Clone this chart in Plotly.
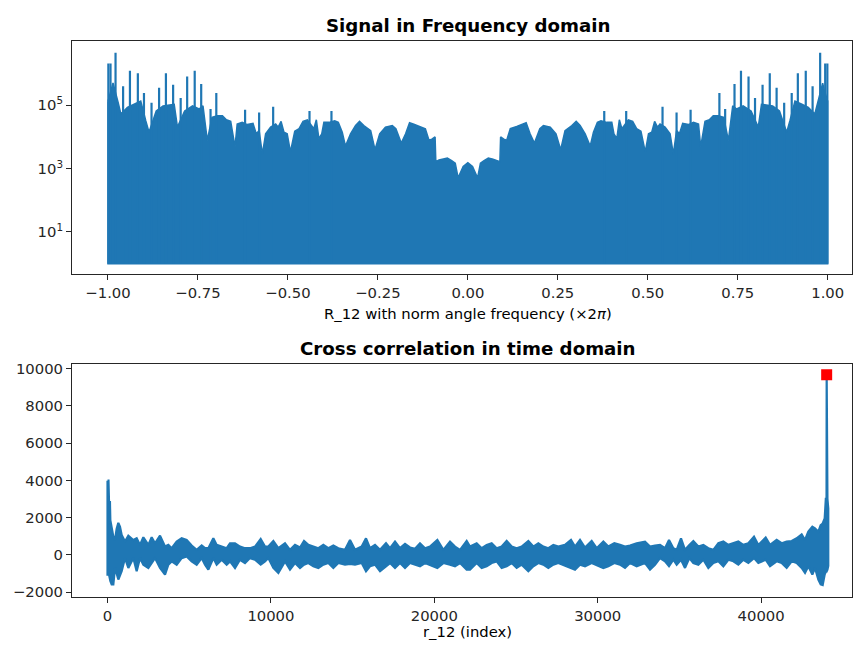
import plotly.graph_objects as go

# ---------------- Top panel: |R_12| spectrum (symmetric, positive half) ----
# normalized angular frequency (x 2pi), positive half
freq_pos = [0.000, 0.013, 0.027, 0.035, 0.045, 0.057, 0.070, 0.080, 0.089, 0.091, 0.100, 0.108,
            0.118, 0.136, 0.150, 0.162, 0.173, 0.185, 0.200, 0.210, 0.229, 0.245, 0.258, 0.270,
            0.289, 0.301, 0.312, 0.326, 0.340, 0.349, 0.360, 0.370, 0.386, 0.400, 0.406, 0.414,
            0.421, 0.428, 0.446, 0.458, 0.469, 0.481, 0.493, 0.502, 0.511, 0.519, 0.527, 0.534,
            0.548, 0.562, 0.571, 0.580, 0.588, 0.597, 0.613, 0.627, 0.641, 0.647, 0.659, 0.671,
            0.682, 0.696, 0.711, 0.724, 0.736, 0.747, 0.765, 0.787, 0.807, 0.816, 0.829, 0.847,
            0.866, 0.886, 0.895, 0.909, 0.928, 0.946, 0.964, 0.972, 0.986, 0.990, 1.000]
# envelope of |R_12| as log10 of magnitude
freq_env_log10 = [3.19, 3.07, 2.71, 3.17, 3.25, 3.33, 3.30, 3.27, 3.22, 4.00, 3.93, 3.90,
                  4.26, 4.33, 4.40, 4.45, 4.10, 3.81, 4.26, 4.36, 4.31, 4.10, 3.60, 4.20,
                  4.36, 4.49, 4.36, 4.10, 3.71, 4.15, 4.46, 4.51, 4.46, 4.46, 4.10, 3.95,
                  4.54, 4.26, 4.54, 4.49, 4.26, 4.18, 3.53, 4.10, 4.15, 4.49, 4.31, 4.41,
                  4.31, 4.10, 3.46, 4.20, 4.10, 4.43, 4.39, 4.46, 4.41, 3.69, 4.49, 4.54,
                  4.67, 4.67, 4.62, 3.89, 4.98, 4.88, 4.98, 4.82, 4.31, 5.03, 5.01, 4.98,
                  4.82, 4.15, 4.51, 5.13, 5.03, 4.93, 4.72, 5.10, 5.70, 5.50, 5.13]
# narrow spectral spikes (positive half)
spike_pos = [0.379, 0.440, 0.541, 0.580, 0.619, 0.699, 0.715, 0.741, 0.759, 0.780, 0.798,
             0.819, 0.839, 0.858, 0.879, 0.900, 0.917, 0.939, 0.958, 0.979, 0.993, 0.999]
spike_log10 = [4.82, 4.82, 4.95, 4.77, 4.86, 5.39, 4.88, 5.67, 6.09, 5.91, 5.23,
               5.65, 6.01, 5.55, 5.08, 5.39, 6.01, 6.09, 5.60, 6.66, 6.32, 6.32]
freq_floor = 1.0

freq_xticks = [-1.0, -0.75, -0.5, -0.25, 0.0, 0.25, 0.5, 0.75, 1.0]
freq_xtick_text = ["\u22121.00", "\u22120.75", "\u22120.50", "\u22120.25", "0.00", "0.25", "0.50", "0.75", "1.00"]
freq_yticks = [1e1, 1e3, 1e5]
freq_ytick_text = ["10<sup>1</sup>", "10<sup>3</sup>", "10<sup>5</sup>"]

# ---------------- Bottom panel: cross correlation r_12 (band envelope) ----
corr_idx = [0, 60, 92, 150, 173, 255, 357, 459, 560, 663, 765, 867, 1071, 1275, 1581, 1785,
            1989, 2193, 2499, 2703, 2907, 3213, 3519, 3723, 3927, 4233, 4539, 4845, 5151, 5457,
            5763, 5967, 6171, 6477, 6681, 6987, 7293, 7497, 7803, 8109, 8415, 8721, 9027, 9374,
            9639, 9843, 10149, 10455, 10761, 10863, 11169, 11475, 11781, 12026, 12291, 12597,
            12903, 13209, 13515, 13821, 14127, 14535, 14841, 15147, 15555, 15820, 16065, 16371,
            16677, 17044, 17289, 17595, 17901, 18207, 18513, 18819, 19125, 19431, 19737, 20186,
            20553, 20961, 21267, 21573, 21981, 22185, 22593, 22899, 23205, 23511, 23817, 24123,
            24429, 24735, 25041, 25347, 25755, 26061, 26367, 26673, 26979, 27285, 27591, 27999,
            28366, 28611, 28917, 29223, 29631, 29937, 30345, 30651, 31018, 31365, 31671, 31977,
            32385, 32895, 33201, 33507, 33813, 34119, 34364, 34629, 34833, 35098, 35343, 35608,
            35853, 36159, 36465, 36771, 37077, 37383, 37689, 37995, 38301, 38607, 38913, 39219,
            39566, 39831, 40280, 40545, 40953, 41259, 41565, 41871, 42177, 42483, 42687, 42891,
            43136, 43299, 43503, 43646, 43768, 43891, 43960, 44005, 44013, 44021, 44060, 44110]
corr_upper = [3983, 3983, 2835, 2835, 1860, 1418, 977, 797, 1400, 1720, 1500, 1062, 708, 1030, 797, 887,
              531, 940, 531, 940, 620, 1030, 443, 531, 354, 708, 887, 797, 497, 266,
              497, 354, 354, 887, 531, 443, 354, 620, 620, 443, 354, 354, 443, 851,
              443, 443, 745, 354, 568, 620, 266, 531, 391, 745, 531, 443,
              354, 531, 354, 497, 354, 266, 798, 266, 443, 887, 354, 531,
              266, 620, 354, 708, 354, 586, 391, 320, 620, 354, 443, 798,
              266, 708, 443, 266, 745, 443, 620, 354, 531, 620, 354, 443,
              745, 443, 354, 443, 745, 443, 620, 443, 354, 531, 443, 531,
              798, 443, 798, 391, 745, 354, 708, 443, 620, 531, 443, 497,
              620, 708, 443, 497, 531, 356, 797, 356, 266, 887, 266, 531,
              743, 446, 531, 356, 266, 621, 711, 531, 621, 711, 531, 621,
              977, 531, 924, 531, 797, 621, 711, 743, 887, 1099, 797, 1243,
              1508, 1418, 1243, 1593, 1683, 1949, 3010, 3010, 9683, 3010, 3010, 2500]
corr_lower = [-1062, -1062, -1062, -1200, -1400, -1593, -1593, -706, -1000, -1327, -1100, -885, -177, -708, -177, -885,
              -177, -531, -708, -443, -177, -708, -1062, -531, -354, -531, -177, -88, -354, -531,
              -177, -531, -797, -177, -531, -266, -531, -354, -708, -266, -443, -177, -266, -531,
              -354, -177, -708, -974, -531, -354, -797, -443, -708, -531, -443, -618,
              -708, -531, -443, -708, -443, -531, -494, -531, -443, -885, -618, -531,
              -885, -618, -443, -708, -443, -708, -443, -531, -618, -443, -531, -708,
              -443, -531, -618, -443, -797, -797, -443, -708, -618, -443, -354, -708,
              -618, -443, -708, -531, -885, -618, -443, -531, -708, -531, -443, -618,
              -708, -797, -531, -618, -443, -531, -708, -618, -443, -531, -708, -443,
              -618, -443, -797, -531, -175, -350, -616, -266, -531, -266, -706, -175,
              -441, -531, -266, -706, -441, -350, -616, -266, -350, -531, -266, -441,
              -175, -441, -266, -616, -350, -441, -706, -350, -441, -706, -972, -616,
              -1062, -706, -1328, -1593, -1625, -1062, -900, -900, -900, -900, -800, -600]
peak_idx = [44013]
peak_val = [9683]

corr_xticks = [0, 10000, 20000, 30000, 40000]
corr_xtick_text = ["0", "10000", "20000", "30000", "40000"]
corr_yticks = [-2000, 0, 2000, 4000, 6000, 8000, 10000]
corr_ytick_text = ["\u22122000", "0", "2000", "4000", "6000", "8000", "10000"]

BLUE = "#1f77b4"
FONT = "DejaVu Sans"
W, H = 853, 646
TICK_SIZE = 14.8
TITLE_SIZE = 18.2

# ---------- build traces ----------
full_x = [-v for v in reversed(freq_pos[1:])] + freq_pos
full_l = list(reversed(freq_env_log10[1:])) + freq_env_log10
env_y = [10 ** v for v in full_l]
poly_x = full_x + [full_x[-1], full_x[0], full_x[0]]
poly_y = env_y + [freq_floor, freq_floor, env_y[0]]

sx, sy = [], []
for p, l in zip(spike_pos, spike_log10):
    for s in (-p, p):
        sx += [s, s, None]
        sy += [freq_floor, 10 ** l, None]

fig = go.Figure()
fig.add_trace(go.Scatter(x=poly_x, y=poly_y, mode="lines", fill="toself",
                         fillcolor=BLUE, line=dict(color=BLUE, width=1.5),
                         xaxis="x", yaxis="y", hoverinfo="skip", showlegend=False))
fig.add_trace(go.Scatter(x=sx, y=sy, mode="lines", line=dict(color=BLUE, width=2.2),
                         xaxis="x", yaxis="y", hoverinfo="skip", showlegend=False))

cx = corr_idx + list(reversed(corr_idx)) + [corr_idx[0]]
cy = corr_upper + list(reversed(corr_lower)) + [corr_upper[0]]
fig.add_trace(go.Scatter(x=cx, y=cy, mode="lines", fill="toself", fillcolor=BLUE,
                         line=dict(color=BLUE, width=2.2), xaxis="x2", yaxis="y2",
                         hoverinfo="skip", showlegend=False))
fig.add_trace(go.Scatter(x=peak_idx, y=peak_val, mode="markers",
                         marker=dict(symbol="square", color="red", size=11, line=dict(width=0)),
                         xaxis="x2", yaxis="y2", showlegend=False))

axis_common = dict(showgrid=False, zeroline=False, showline=True, mirror=True,
                   linecolor="#262626", linewidth=1, ticks="outside", ticklen=5,
                   tickwidth=1, tickcolor="#262626",
                   tickfont=dict(family=FONT, size=TICK_SIZE, color="#262626"))

x_dom = [72 / W, 852 / W]
fig.update_layout(
    width=W, height=H,
    margin=dict(l=0, r=0, t=0, b=0),
    paper_bgcolor="white", plot_bgcolor="white",
    font=dict(family=FONT, color="#262626"),
    xaxis=dict(domain=x_dom, anchor="y", range=[-1.1, 1.0675],
               tickmode="array", tickvals=freq_xticks, ticktext=freq_xtick_text, **axis_common),
    yaxis=dict(domain=[1 - 272.5 / H, 1 - 36.7 / H], anchor="x", type="log",
               range=[-0.33, 7.02], tickmode="array", tickvals=freq_yticks,
               ticktext=freq_ytick_text, **axis_common),
    xaxis2=dict(domain=x_dom, anchor="y2", range=[-2173, 45563],
                tickmode="array", tickvals=corr_xticks, ticktext=corr_xtick_text, **axis_common),
    yaxis2=dict(domain=[1 - 599.3 / H, 1 - 364 / H], anchor="x2", range=[-2262, 10228],
                tickmode="array", tickvals=corr_yticks, ticktext=corr_ytick_text, **axis_common),
)

cx_paper = 468 / W
annots = [
    ("<b>Signal in Frequency domain</b>", 21, TITLE_SIZE),
    ("<b>Cross correlation in time domain</b>", 348, TITLE_SIZE),
    ("R_12 with norm angle frequency (\u00d72<i>\u03c0</i>)", 312, TICK_SIZE),
    ("r_12 (index)", 634, TICK_SIZE),
]
for text, ypx, size in annots:
    fig.add_annotation(text=text, x=cx_paper, y=1 - ypx / H, xref="paper", yref="paper",
                       xanchor="center", yanchor="middle", showarrow=False,
                       font=dict(family=FONT, size=size, color="black"))

fig.write_html("out.html")
